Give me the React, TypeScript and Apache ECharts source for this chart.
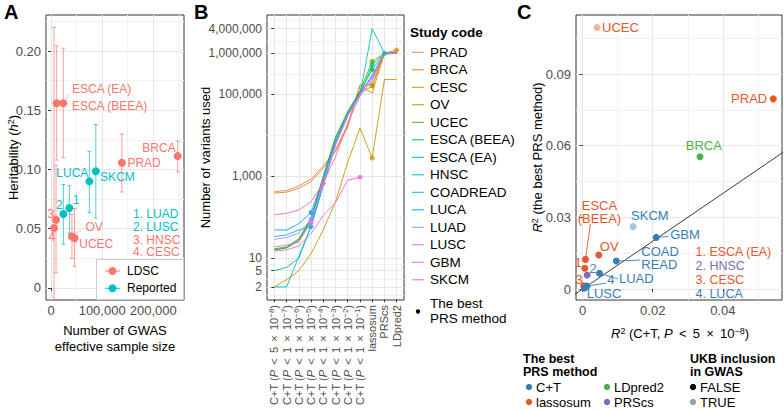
import React, { useEffect, useRef } from 'react';
import * as echarts from 'echarts';

const FONT = '"Liberation Sans", Arial, Helvetica, sans-serif';
const TICK_COLOR = '#4D4D4D';
const FRAME = '#333333';
const GRID_MAJOR = '#E6E6E6';
const GRID_MINOR = '#F2F2F2';

// ---------------- Panel A ----------------
const A_STUDY = ['ESCA (EA)', 'ESCA (BEEA)', 'PRAD', 'BRCA', 'OV', 'UCEC', 'HNSC', 'CESC', 'LUAD', 'LUSC', 'LUCA', 'SKCM'];
const A_LABEL = ['ESCA (EA)', 'ESCA (BEEA)', 'PRAD', 'BRCA', 'OV', 'UCEC', '3', '4', '1', '2', 'LUCA', 'SKCM'];
const A_SOURCE = ['LDSC', 'LDSC', 'LDSC', 'LDSC', 'LDSC', 'LDSC', 'LDSC', 'LDSC', 'Reported', 'Reported', 'Reported', 'Reported'];
const A_NEFF = [24000, 11000, 138600, 247700, 40900, 46000, 9800, 5900, 35900, 24200, 75000, 87600];
const A_H2 = [0.156, 0.156, 0.1057, 0.1113, 0.0435, 0.042, 0.0576, 0.0506, 0.0675, 0.0624, 0.09, 0.0986];
const A_LO = [0.11, 0.108, 0.081, 0.098, 0.025, 0.018, 0.0127, -0.12, 0.0463, 0.037, 0.0638, 0.059];
const A_HI = [0.2025, 0.2045, 0.13, 0.124, 0.062, 0.067, 0.1036, 0.22, 0.0864, 0.0873, 0.1155, 0.1379];
const A_X_TICKS = [0, 100000, 200000];
const A_X_MINOR = [50000, 150000, 250000];
const A_Y_TICKS = [0, 0.05, 0.1, 0.15, 0.2];
const A_Y_MINOR = [0.025, 0.075, 0.125, 0.175, 0.225];
const A_X_RANGE = [-9800, 260000];
const A_Y_RANGE = [-0.0102, 0.2305];
const A_NOTES = ['1. LUAD', '2. LUSC', '3. HNSC', '4. CESC'];
const A_NOTE_SOURCE = ['Reported', 'Reported', 'LDSC', 'LDSC'];
const A_SOURCES = ['LDSC', 'Reported'];

// ---------------- Panel B ----------------
const B_CATS = [
  'C+T (P < 5 × 10^−8)', 'C+T (P < 1 × 10^−7)', 'C+T (P < 1 × 10^−6)', 'C+T (P < 1 × 10^−5)',
  'C+T (P < 1 × 10^−4)', 'C+T (P < 1 × 10^−3)', 'C+T (P < 1 × 10^−2)', 'C+T (P < 1 × 10^−1)',
  'lassosum', 'PRScs', 'LDpred2',
];
const B_STUDIES = ['PRAD', 'BRCA', 'CESC', 'OV', 'UCEC', 'ESCA (BEEA)', 'ESCA (EA)', 'HNSC', 'COADREAD', 'LUCA', 'LUAD', 'LUSC', 'GBM', 'SKCM'];
const B_PRAD = [420, 450, 580, 850, 1800, 4500, 18000, 170000, 170000, 1000000, 1100000];
const B_BRCA = [390, 410, 510, 740, 1600, 4000, 16000, 160000, 107000, 1000000, 1200000];
const B_CESC = [2, 3, 5, 13, 49, 240, 2200, 15000, 2800, 230000, 230000];
const B_OV = [16, 18, 26, 85, 850, 7500, 33000, 105000, 160000, 950000, 1000000];
const B_UCEC = [17, 19, 30, 95, 1000, 9000, 38000, 120000, 630000, 1000000, 1050000];
const B_ESCA_BEEA = [16, 18, 28, 90, 950, 8500, 36000, 115000, 400000, 1000000, 1050000];
const B_ESCA_EA = [5, 6, 10, 60, 700, 7000, 32000, 100000, 520000, 1000000, 1050000];
const B_HNSC = [2, 2, 11, 60, 600, 6000, 30000, 95000, 4000000, 1000000, 1000000];
const B_COADREAD = [34, 37, 49, 59, 600, 6000, 30000, 100000, 300000, 1000000, 1000000];
const B_LUCA = [49, 49, 70, 130, 900, 7000, 33000, 110000, 250000, 1000000, 1000000];
const B_LUAD = [29, 32, 41, 89, 700, 6500, 31000, 100000, 280000, 1000000, 1000000];
const B_LUSC = [19, 21, 25, 74, 650, 6200, 30000, 100000, 260000, 1000000, 1000000];
const B_GBM = [15, 16, 20, 40, 110, 230, 800, 950, null, null, null];
const B_SKCM = [115, 125, 150, 240, 680, 3000, 20000, 90000, 220000, 1000000, 1000000];
const B_VALUES: (number | null)[][] = [B_PRAD, B_BRCA, B_CESC, B_OV, B_UCEC, B_ESCA_BEEA, B_ESCA_EA, B_HNSC, B_COADREAD, B_LUCA, B_LUAD, B_LUSC, B_GBM, B_SKCM];
const B_BEST = [8, 10, 8, 8, 8, 8, 8, 9, 3, 3, 3, 3, 7, 4];
const B_Y_TICKS = [2, 5, 10, 1000, 100000, 1000000, 4000000];
const B_Y_RANGE = [0.96, 8.6e6];
const B_COLORS = ['#F8766D', '#E38900', '#C49A00', '#99A800', '#53B400', '#00BC56', '#00C094', '#00BFC4', '#00B6EB', '#06A4FF', '#A58AFF', '#DF70F8', '#FB61D7', '#FF66A8'];

// ---------------- Panel C ----------------
const C_STUDY = ['UCEC', 'PRAD', 'BRCA', 'SKCM', 'GBM', 'OV', 'ESCA (BEEA)', 'COADREAD', 'ESCA (EA)', 'HNSC', 'LUAD', 'CESC', 'LUCA', 'LUSC'];
const C_LABEL = ['UCEC', 'PRAD', 'BRCA', 'SKCM', 'GBM', 'OV', 'ESCA\n(BEEA)', 'COAD\nREAD', '1', '2', 'LUAD', '3', '4', 'LUSC'];
const C_X = [0.0041, 0.0544, 0.0335, 0.0144, 0.021, 0.0046, 0.0008, 0.0096, 0.0006, 0.0013, 0.0048, 0.0003, 0.0012, 0.0005];
const C_Y = [0.1095, 0.0796, 0.0554, 0.0261, 0.0216, 0.0142, 0.0124, 0.0117, 0.0087, 0.0059, 0.0066, 0.0014, 0.0012, 0.0004];
const C_METHOD = ['lassosum', 'lassosum', 'LDpred2', 'C+T', 'C+T', 'lassosum', 'lassosum', 'C+T', 'lassosum', 'PRScs', 'C+T', 'lassosum', 'C+T', 'C+T'];
const C_UKB = [true, false, false, true, false, false, false, false, false, false, false, false, false, false];
const C_X_TICKS = [0, 0.02, 0.04];
const C_X_MINOR = [0.01, 0.03, 0.05];
const C_Y_TICKS = [0, 0.03, 0.06, 0.09];
const C_Y_MINOR = [0.015, 0.045, 0.075, 0.105];
const C_X_RANGE = [-0.0019, 0.0569];
const C_Y_RANGE = [-0.0046, 0.1147];
const C_NOTES = ['1. ESCA (EA)', '2. HNSC', '3. CESC', '4. LUCA'];
const C_NOTE_METHOD = ['lassosum', 'PRScs', 'lassosum', 'C+T'];
const METHODS = ['C+T', 'lassosum', 'LDpred2', 'PRScs'];
const UKB_LEVELS = ['FALSE', 'TRUE'];

// ---------------- styling ----------------
const SOURCE_COLORS: Record<string, string> = { LDSC: '#F8766D', Reported: '#00BFC4' };
const METHOD_COLORS: Record<string, string> = { 'C+T': '#377EB8', lassosum: '#E4582B', LDpred2: '#4DAF4A', PRScs: '#7570B3' };

type Lay = { dx: number; dy: number; align: string; seg?: [number, number]; dash?: boolean };
const A_LAYOUT: Record<string, Lay> = {
  'ESCA (EA)': { dx: 8.7, dy: -14.3, align: 'left', seg: [6, -10], dash: true },
  'ESCA (BEEA)': { dx: 15.3, dy: 2.7, align: 'left' },
  PRAD: { dx: 5.5, dy: 0.7, align: 'left' },
  BRCA: { dx: -2, dy: -8.5, align: 'right' },
  OV: { dx: 13.5, dy: -9, align: 'left', seg: [9, -5.5], dash: true },
  UCEC: { dx: 4.7, dy: 5.7, align: 'left' },
  HNSC: { dx: -5.3, dy: -5.7, align: 'center' },
  CESC: { dx: -2.3, dy: 9, align: 'center' },
  LUAD: { dx: 6.7, dy: -7.6, align: 'center' },
  LUSC: { dx: -4, dy: -9.3, align: 'center' },
  LUCA: { dx: -1, dy: -8.4, align: 'right' },
  SKCM: { dx: 4.3, dy: 6, align: 'left' },
};
const C_LAYOUT: Record<string, Lay> = {
  UCEC: { dx: 5, dy: 0, align: 'left' },
  PRAD: { dx: -6, dy: 0, align: 'right' },
  BRCA: { dx: 3.8, dy: -10.7, align: 'center' },
  SKCM: { dx: -2, dy: -11, align: 'left' },
  GBM: { dx: 14, dy: -3, align: 'left', seg: [12, -1] },
  OV: { dx: 1, dy: -8.3, align: 'left' },
  'ESCA (BEEA)': { dx: 14, dy: -47, align: 'center', seg: [5, -36] },
  COADREAD: { dx: 25, dy: -3.2, align: 'left', seg: [24, -1] },
  'ESCA (EA)': { dx: -6.6, dy: -5.6, align: 'center' },
  HNSC: { dx: 6, dy: -6, align: 'center' },
  LUAD: { dx: 19.5, dy: 5, align: 'left', seg: [18, 5.5] },
  CESC: { dx: -4.7, dy: -5.7, align: 'center' },
  LUCA: { dx: 24, dy: -6.7, align: 'center', seg: [19, -3] },
  LUSC: { dx: 2.3, dy: 5.7, align: 'left' },
};

const GRID_A = { left: 46, top: 15, width: 138, height: 285 };
const GRID_B = { left: 267, top: 15, width: 137, height: 285 };
const GRID_C = { left: 576, top: 15, width: 206, height: 285 };

function mainAxis(dim: 'x' | 'y', gridIndex: number, range: number[], ticks: number[], fmt: (v: number) => string, extraLabel: any = {}) {
  return {
    type: 'value', gridIndex, min: range[0], max: range[1],
    position: dim === 'x' ? 'bottom' : 'left',
    axisLine: { show: false },
    axisTick: { show: true, length: 3, customValues: ticks, lineStyle: { color: FRAME, width: 1 } },
    axisLabel: { show: true, customValues: ticks, formatter: fmt, color: TICK_COLOR, fontSize: 13, fontFamily: FONT, margin: 5, ...extraLabel },
    splitLine: { show: true, lineStyle: { color: GRID_MAJOR, width: 1 } },
    minorTick: { show: false }, minorSplitLine: { show: false },
  };
}
function minorAxis(dim: 'x' | 'y', gridIndex: number, range: number[], ticks: number[]) {
  return {
    type: 'value', gridIndex, min: range[0], max: range[1],
    position: dim === 'x' ? 'top' : 'right',
    axisLine: { show: false },
    axisTick: { show: false, customValues: ticks },
    axisLabel: { show: false, customValues: ticks },
    splitLine: { show: true, lineStyle: { color: GRID_MINOR, width: 1 } },
  };
}

const fmt2 = (v: number) => (v === 0 ? '0' : v.toFixed(2));
const fmtThousands = (v: number) => Math.round(v).toLocaleString('en-US');

function logMinor(ticks: number[], lo: number, hi: number) {
  const b = ticks.map((t) => Math.log10(t));
  const bd = b[1] - b[0];
  const ext = [b[0] - bd, ...b, b[b.length - 1] + bd];
  const out: number[] = [];
  for (let i = 0; i < ext.length - 1; i++) out.push((ext[i] + ext[i + 1]) / 2);
  return out.filter((v) => v > lo && v < hi);
}

function buildOption() {
  const bLo = Math.log10(B_Y_RANGE[0]);
  const bHi = Math.log10(B_Y_RANGE[1]);
  const bTicks = B_Y_TICKS.map((t) => Math.log10(t));
  const bMinor = logMinor(B_Y_TICKS, bLo, bHi);
  const bCatIdx = B_CATS.map((_, i) => i);

  const n = { fontSize: 11, fontFamily: FONT, color: TICK_COLOR, lineHeight: 13 };
  const bXRich = {
    n,
    i: { ...n, fontStyle: 'italic' },
    s: { fontSize: 8, fontFamily: FONT, color: TICK_COLOR, verticalAlign: 'top', lineHeight: 9 },
  };
  const sp = '\u2009';
  const bXFmt = (v: number) => {
    const s = B_CATS[Math.round(v)];
    const m = s.match(/^C\+T \(P < (\d) × 10\^(.+)\)$/);
    if (m) return `{n|C+T (}{i|P}{n| ${sp}<${sp} ${m[1]} ${sp}×${sp} 10}{s|${m[2]}}{n|)}`;
    return `{n|${s}}`;
  };

  const xAxis: any[] = [
    mainAxis('x', 0, A_X_RANGE, A_X_TICKS, fmtThousands, { margin: 4 }),
    minorAxis('x', 0, A_X_RANGE, A_X_MINOR),
    mainAxis('x', 1, [-0.6, 10.6], bCatIdx, bXFmt, { rotate: 90, rich: bXRich, margin: 5, fontSize: 11 }),
    mainAxis('x', 2, C_X_RANGE, C_X_TICKS, fmt2, { margin: 4 }),
    minorAxis('x', 2, C_X_RANGE, C_X_MINOR),
  ];
  const yAxis: any[] = [
    mainAxis('y', 0, A_Y_RANGE, A_Y_TICKS, fmt2),
    minorAxis('y', 0, A_Y_RANGE, A_Y_MINOR),
    mainAxis('y', 1, [bLo, bHi], bTicks, (v: number) => fmtThousands(Math.pow(10, v)), { fontSize: 12 }),
    minorAxis('y', 1, [bLo, bHi], bMinor),
    mainAxis('y', 2, C_Y_RANGE, C_Y_TICKS, fmt2),
    minorAxis('y', 2, C_Y_RANGE, C_Y_MINOR),
  ];

  const series: any[] = [];

  // Panel A error bars
  series.push({
    type: 'custom', xAxisIndex: 0, yAxisIndex: 0, z: 2, silent: true,
    data: A_NEFF.map((v, i) => [v, A_LO[i], A_HI[i]]),
    encode: { x: 0, y: [1, 2] },
    renderItem: (params: any, api: any) => {
      const i = params.dataIndex;
      const x = api.value(0);
      const pHi = api.coord([x, api.value(2)]);
      const pLo = api.coord([x, api.value(1)]);
      const cs = params.coordSys;
      const top = Math.max(pHi[1], cs.y);
      const bot = Math.min(pLo[1], cs.y + cs.height);
      const st = { stroke: SOURCE_COLORS[A_SOURCE[i]], lineWidth: 1, opacity: 0.7, fill: null };
      const w = 2;
      const ch: any[] = [{ type: 'line', shape: { x1: pHi[0], y1: top, x2: pHi[0], y2: bot }, style: st }];
      if (pHi[1] >= cs.y) ch.push({ type: 'line', shape: { x1: pHi[0] - w, y1: pHi[1], x2: pHi[0] + w, y2: pHi[1] }, style: st });
      if (pLo[1] <= cs.y + cs.height) ch.push({ type: 'line', shape: { x1: pLo[0] - w, y1: pLo[1], x2: pLo[0] + w, y2: pLo[1] }, style: st });
      return { type: 'group', children: ch };
    },
  });
  A_SOURCES.forEach((src) => {
    series.push({
      type: 'scatter', name: src, xAxisIndex: 0, yAxisIndex: 0, z: 3, silent: true,
      symbol: 'circle', symbolSize: 8,
      itemStyle: { color: SOURCE_COLORS[src], opacity: 1 },
      data: A_NEFF.map((v, i) => [v, A_H2[i], i]).filter((d) => A_SOURCE[d[2]] === src).map((d) => [d[0], d[1]]),
    });
  });
  series.push({
    type: 'custom', xAxisIndex: 0, yAxisIndex: 0, z: 4, silent: true,
    data: A_NEFF.map((v, i) => [v, A_H2[i]]),
    renderItem: (params: any, api: any) => {
      const i = params.dataIndex;
      const p = api.coord([api.value(0), api.value(1)]);
      const lay = A_LAYOUT[A_STUDY[i]];
      const color = SOURCE_COLORS[A_SOURCE[i]];
      const ch: any[] = [];
      if (lay.seg) ch.push({ type: 'line', shape: { x1: p[0] + 2, y1: p[1] - 2, x2: p[0] + lay.seg[0], y2: p[1] + lay.seg[1] }, style: { stroke: color, lineWidth: 0.8, lineDash: lay.dash ? [1.5, 1.5] : null } });
      ch.push({ type: 'text', x: p[0] + lay.dx, y: p[1] + lay.dy, style: { text: A_LABEL[i], fill: color, fontSize: 12, fontFamily: FONT, align: lay.align, verticalAlign: 'middle' } });
      return { type: 'group', children: ch };
    },
  });

  // Panel B lines
  B_STUDIES.forEach((s, k) => {
    const vals = B_VALUES[k];
    series.push({
      type: 'line', name: s, xAxisIndex: 2, yAxisIndex: 2, z: 2, silent: true,
      symbol: 'none', showSymbol: false,
      lineStyle: { color: B_COLORS[k], width: 0.9 },
      itemStyle: { color: B_COLORS[k] },
      data: vals.map((v, i) => (v == null ? null : [i, Math.log10(v)])).filter((d) => d != null),
    });
  });
  series.push({
    type: 'scatter', xAxisIndex: 2, yAxisIndex: 2, z: 3, silent: true,
    symbol: 'circle', symbolSize: 5,
    data: B_STUDIES.map((s, k) => ({ value: [B_BEST[k], Math.log10(B_VALUES[k][B_BEST[k]] as number)], itemStyle: { color: B_COLORS[k] } })),
  });

  // Panel C
  series.push({
    type: 'line', xAxisIndex: 3, yAxisIndex: 4, z: 2, silent: true, symbol: 'none', clip: true,
    lineStyle: { color: '#222', width: 0.9 },
    data: [[C_Y_RANGE[0], C_Y_RANGE[0]], [C_Y_RANGE[1], C_Y_RANGE[1]]],
  });
  series.push({
    type: 'scatter', xAxisIndex: 3, yAxisIndex: 4, z: 3, silent: true, symbol: 'circle', symbolSize: 7,
    data: C_X.map((x, i) => ({ value: [x, C_Y[i]], itemStyle: { color: METHOD_COLORS[C_METHOD[i]], opacity: C_UKB[i] ? 0.45 : 1 } })),
  });
  series.push({
    type: 'custom', xAxisIndex: 3, yAxisIndex: 4, z: 4, silent: true,
    data: C_X.map((x, i) => [x, C_Y[i]]),
    renderItem: (params: any, api: any) => {
      const i = params.dataIndex;
      const p = api.coord([api.value(0), api.value(1)]);
      const lay = C_LAYOUT[C_STUDY[i]];
      const color = METHOD_COLORS[C_METHOD[i]];
      const ch: any[] = [];
      if (lay.seg) ch.push({ type: 'line', shape: { x1: p[0], y1: p[1], x2: p[0] + lay.seg[0], y2: p[1] + lay.seg[1] }, style: { stroke: color, lineWidth: 0.9 } });
      ch.push({ type: 'text', x: p[0] + lay.dx, y: p[1] + lay.dy, style: { text: C_LABEL[i], fill: color, fontSize: 13, fontFamily: FONT, align: lay.align, verticalAlign: 'middle', lineHeight: 13 } });
      return { type: 'group', children: ch };
    },
  });

  // ---------------- graphic ----------------
  const g: any[] = [];
  const T = (x: number, y: number, text: string, st: any = {}, el: any = {}) =>
    g.push({ type: 'text', x, y, silent: true, z: 10, ...el, style: { text, fontFamily: FONT, fontSize: 13, fill: '#000', align: 'left', verticalAlign: 'middle', ...st } });
  const titleRich = {
    n: { fontSize: 13, fontFamily: FONT, fill: '#000', color: '#000' },
    i: { fontSize: 13, fontFamily: FONT, fill: '#000', color: '#000', fontStyle: 'italic' },
    s: { fontSize: 9, fontFamily: FONT, fill: '#000', color: '#000', verticalAlign: 'top' },
  };

  // letters
  T(4, 12, 'A', { fontSize: 20, fontWeight: 'bold' });
  T(194, 12, 'B', { fontSize: 20, fontWeight: 'bold' });
  T(517, 12, 'C', { fontSize: 20, fontWeight: 'bold' });

  // Panel A titles
  T(13, 157.5, '{n|Heritability (}{i|h}{s|2}{n|)}', { align: 'center', rich: titleRich }, { rotation: Math.PI / 2 });
  T(115, 330, 'Number of GWAS', { align: 'center' });
  T(115, 346, 'effective sample size', { align: 'center' });
  A_NOTES.forEach((t, i) => T(133, 214.3 + i * 12.7, t, { fontSize: 12, fill: SOURCE_COLORS[A_NOTE_SOURCE[i]] }));
  // Panel A legend
  g.push({ type: 'rect', silent: true, z: 9, shape: { x: 96.5, y: 259.5, width: 87, height: 40 }, style: { fill: '#fff', stroke: '#CCCCCC', lineWidth: 1 } });
  A_SOURCES.forEach((src, i) => {
    const y = 271 + i * 17.3;
    g.push({ type: 'line', silent: true, z: 10, shape: { x1: 105, y1: y, x2: 120, y2: y }, style: { stroke: SOURCE_COLORS[src], lineWidth: 1 } });
    g.push({ type: 'circle', silent: true, z: 10, shape: { cx: 112.5, cy: y, r: 4 }, style: { fill: SOURCE_COLORS[src] } });
    T(127, y, src, { fontSize: 12 });
  });

  // Panel B titles & legend
  T(205, 157.5, 'Number of variants used', { align: 'center' }, { rotation: Math.PI / 2 });
  T(410, 32, 'Study code', { fontWeight: 'bold', fontSize: 13.5 });
  B_STUDIES.forEach((s, k) => {
    const y = 52.3 + k * 17.5;
    g.push({ type: 'line', silent: true, z: 10, shape: { x1: 412, y1: y, x2: 424, y2: y }, style: { stroke: B_COLORS[k], lineWidth: 1 } });
    T(430, y, s, { fontSize: 13.5 });
  });
  g.push({ type: 'circle', silent: true, z: 10, shape: { cx: 418, cy: 311.5, r: 2.2 }, style: { fill: '#000' } });
  T(430, 303.5, 'The best', { fontSize: 13.5 });
  T(430, 318.5, 'PRS method', { fontSize: 13.5 });

  // Panel C titles
  T(537, 157.5, '{i|R}{s|2}{n| (the best PRS method)}', { align: 'center', rich: titleRich }, { rotation: Math.PI / 2 });
  T(680, 333, `{i|R}{s|2}{n| (C+T, }{i|P}{n| ${sp}<${sp} 5 ${sp}×${sp} 10}{s|−8}{n|)}`, { align: 'center', rich: titleRich });
  C_NOTES.forEach((t, i) => T(695.5, 251.5 + i * 14.3, t, { fontSize: 12.5, fill: METHOD_COLORS[C_NOTE_METHOD[i]] }));
  // Panel C legends
  T(523, 359, 'The best', { fontWeight: 'bold', fontSize: 12.5 });
  T(523, 372, 'PRS method', { fontWeight: 'bold', fontSize: 12.5 });
  METHODS.forEach((m, i) => {
    const col = Math.floor(i / 2);
    const row = i % 2;
    const x = 529 + col * 78;
    const y = 387 + row * 15;
    g.push({ type: 'circle', silent: true, z: 10, shape: { cx: x, cy: y, r: 3.2 }, style: { fill: METHOD_COLORS[m] } });
    T(x + 7, y, m);
  });
  T(690, 359, 'UKB inclusion', { fontWeight: 'bold', fontSize: 12.5 });
  T(690, 372, 'in GWAS', { fontWeight: 'bold', fontSize: 12.5 });
  UKB_LEVELS.forEach((lv, i) => {
    const y = 387 + i * 15;
    g.push({ type: 'circle', silent: true, z: 10, shape: { cx: 693, cy: y, r: 3.2 }, style: { fill: lv === 'TRUE' ? '#9E9E9E' : '#000' } });
    T(700, y, lv);
  });

  const gridBase = { show: true, borderColor: FRAME, borderWidth: 1, backgroundColor: '#fff', containLabel: false, outerBoundsMode: 'none' };

  return {
    animation: false,
    backgroundColor: '#fff',
    textStyle: { fontFamily: FONT },
    grid: [
      { ...gridBase, ...GRID_A },
      { ...gridBase, ...GRID_B },
      { ...gridBase, ...GRID_C },
    ],
    xAxis,
    yAxis,
    series,
    graphic: g,
  };
}

export default function App() {
  const ref = useRef<HTMLDivElement>(null);
  useEffect(() => {
    const chart = echarts.init(ref.current as HTMLDivElement, null, { renderer: 'svg' });
    chart.setOption(buildOption() as any);
    return () => chart.dispose();
  }, []);
  return <div ref={ref} style={{ position: 'fixed', left: 0, top: 0, width: 784, height: 410, background: '#fff' }} />;
}
